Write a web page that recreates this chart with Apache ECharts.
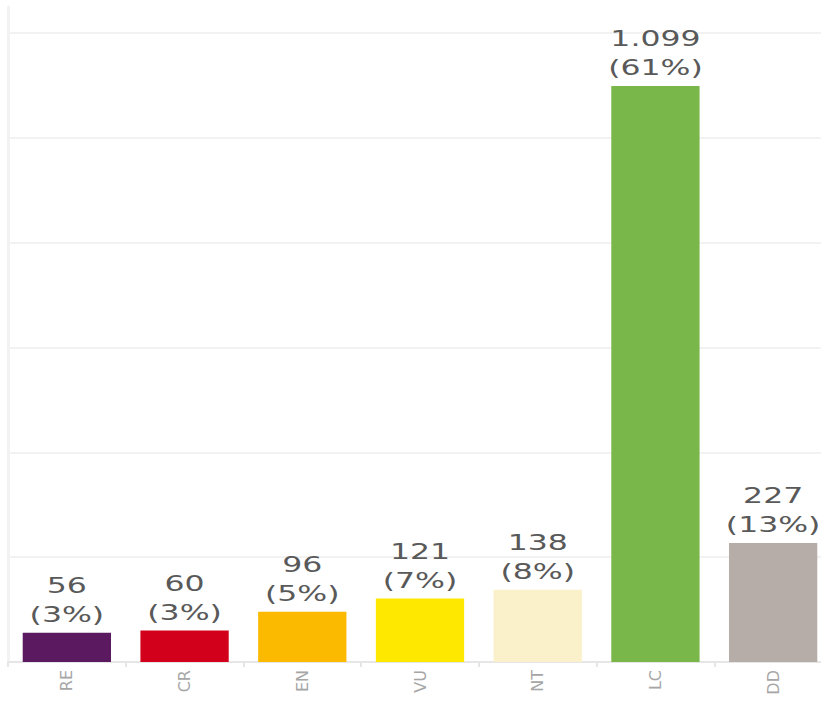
<!DOCTYPE html>
<html>
<head>
<meta charset="utf-8">
<script src="https://cdn.jsdelivr.net/npm/echarts@6/dist/echarts.min.js"></script>
<style>
html,body{margin:0;padding:0;background:#fff;}
#c{width:821px;height:701px;}
</style>
</head>
<body>
<div id="c"></div>
<script>
var categories = ['RE', 'CR', 'EN', 'VU', 'NT', 'LC', 'DD'];
var values = [56, 60, 96, 121, 138, 1099, 227];
var colors = ['#5b1a5f', '#d2001a', '#fbb900', '#ffe800', '#faf0c9', '#7ab74a', '#b6ada8'];

var total = values.reduce(function (a, b) { return a + b; }, 0);
function fmt(v) { return String(v).replace(/\B(?=(\d{3})+(?!\d))/g, '.'); }

var chart = echarts.init(document.getElementById('c'), null, { renderer: 'svg' });
chart.setOption({
  animation: false,
  backgroundColor: '#ffffff',
  grid: { left: 8, top: 7, width: 824, bottom: 39, containLabel: false, outerBoundsMode: 'none' },
  xAxis: {
    type: 'category',
    data: categories,
    boundaryGap: true,
    axisLine: { show: true, lineStyle: { color: '#e6e6e6', width: 2 } },
    axisTick: { show: true, length: 5, lineStyle: { color: '#e6e6e6', width: 2 } },
    axisLabel: { rotate: 90, color: '#a6a6a6', fontSize: 16, fontFamily: 'DejaVu Sans', margin: 8 },
    splitLine: { show: false }
  },
  yAxis: {
    type: 'value',
    min: 0,
    max: 1250,
    interval: 200,
    axisLine: { show: true, lineStyle: { color: '#f2f2f2', width: 3 } },
    axisTick: { show: false },
    axisLabel: { show: false },
    splitLine: { show: true, lineStyle: { color: ['#f2f2f2', '#f2f2f2', '#f2f2f2', '#f2f2f2', '#f2f2f2', '#f2f2f2', '#f2f2f2', 'rgba(0,0,0,0)'], width: 2 } }
  },
  series: [{
    type: 'bar',
    data: values.map(function (v, i) { return { value: v, itemStyle: { color: colors[i] } }; }),
    barCategoryGap: '25%',
    label: {
      show: true,
      position: 'top',
      distance: 4,
      color: '#595959',
      fontSize: 21,
      lineHeight: 29,
      fontFamily: 'DejaVu Sans',
      formatter: function (p) {
        return fmt(p.value) + '\n(' + Math.round(p.value / total * 100) + '%)';
      }
    }
  }]
});
// the reference's value labels use a wide typeface: stretch them horizontally about their centre
var texts = document.querySelectorAll('#c svg text');
texts.forEach(function (t) {
  if (/^[\d.()%]+$/.test(t.textContent.trim())) {
    var b = t.getBBox();
    var cx = b.x + b.width / 2;
    var tr = t.getAttribute('transform') || '';
    t.setAttribute('transform', tr + ' translate(' + cx + ',0) scale(1.5,1) translate(' + (-cx) + ',0)');
  }
});
</script>
</body>
</html>
